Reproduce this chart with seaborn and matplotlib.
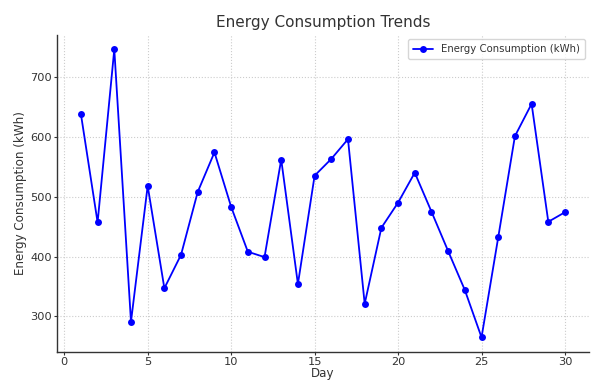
import matplotlib
matplotlib.use("Agg")
import matplotlib.pyplot as plt
import seaborn as sns
import pandas as pd

days = list(range(1, 31))
energy_kwh = [638, 457, 746, 291, 518, 347, 403, 508, 574, 483,
              408, 399, 562, 354, 535, 563, 596, 321, 448, 490,
              540, 475, 409, 344, 265, 432, 601, 655, 458, 474]
series_label = "Energy Consumption (kWh)"

df = pd.DataFrame({"Day": days, "Energy": energy_kwh})

sns.set_style("whitegrid", {
    "grid.linestyle": ":",
    "grid.color": "#cccccc",
    "axes.edgecolor": "#333333",
    "xtick.bottom": True,
    "ytick.left": True,
})
plt.rcParams['font.family'] = ['DejaVu Sans']
plt.rcParams['text.color'] = '#333333'
plt.rcParams['axes.labelcolor'] = '#333333'
plt.rcParams['xtick.color'] = '#333333'
plt.rcParams['ytick.color'] = '#333333'

fig = plt.figure(figsize=(6, 3.84), dpi=100)
ax = fig.add_axes([0.0945, 0.084, 0.8875, 0.825])

sns.lineplot(data=df, x="Day", y="Energy", ax=ax, color="blue",
             marker="o", markersize=5, markeredgewidth=0, linewidth=1.3,
             label=series_label)

ax.set_title("Energy Consumption Trends", fontsize=11, color="#333333", pad=6)
ax.set_xlabel("Day", fontsize=8.6, labelpad=0.5)
ax.set_ylabel("Energy Consumption (kWh)", fontsize=8.6, labelpad=2)
ax.tick_params(axis="both", labelsize=8.2, length=2.5, width=0.8, pad=1)
ax.set_xticks([0, 5, 10, 15, 20, 25, 30])
ax.set_yticks([300, 400, 500, 600, 700])
ax.margins(x=0.05, y=0.05)

for s in ["top", "right"]:
    ax.spines[s].set_visible(False)
for s in ["left", "bottom"]:
    ax.spines[s].set_linewidth(1.0)
    ax.spines[s].set_color("#333333")

leg = ax.legend(loc="upper right", fontsize=7.3, frameon=True, fancybox=True,
                borderpad=0.5, handlelength=2.0, borderaxespad=0.4)
leg.get_frame().set_edgecolor("#cccccc")

fig.savefig("out.png", dpi=100)
